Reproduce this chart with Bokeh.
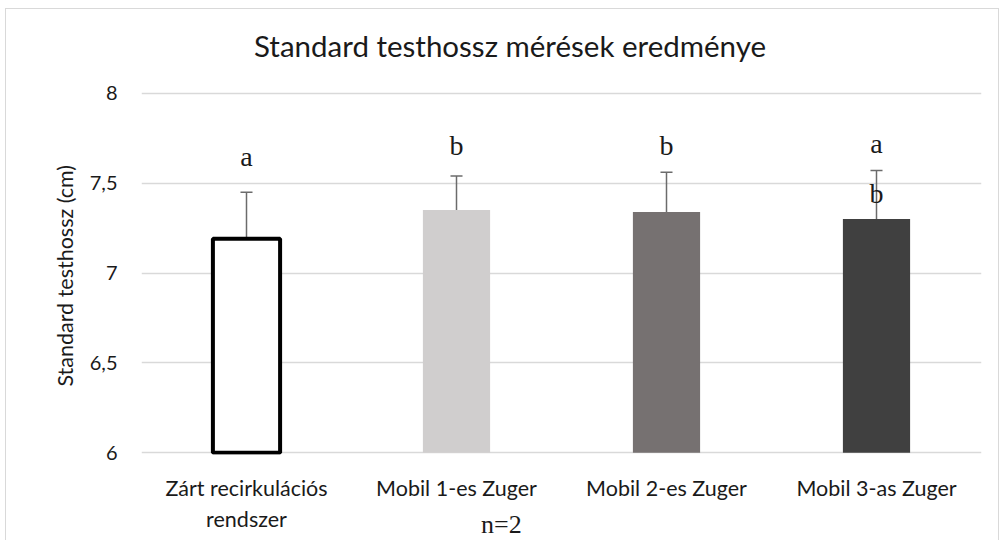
from bokeh.plotting import figure
from bokeh.models import (ColumnDataSource, FactorRange, FixedTicker, Whisker, TeeHead, Range1d,
                          LinearAxis)
from bokeh.core.properties import value
from bokeh.embed import file_html
from bokeh.resources import INLINE

# ---- data ----
categories = ["Zárt recirkulációs\nrendszer", "Mobil 1-es Zuger", "Mobil 2-es Zuger", "Mobil 3-as Zuger"]
means = [7.19, 7.35, 7.34, 7.30]
errors = [0.26, 0.19, 0.22, 0.27]
letters = ["a", "b", "b", "a"]
letter_y = [7.65, 7.71, 7.71, 7.72]
extra_letters = ["b"]
extra_letter_cats = ["Mobil 3-as Zuger"]
extra_letter_y = [7.44]
y_ticks = [6, 6.5, 7, 7.5, 8]
y_tick_labels = ["6", "6,5", "7", "7,5", "8"]
title_text = "Standard testhossz mérések eredménye"
title_pos = 1.755  # horizontal centre of the title on the category axis (synthetic units)
y_label = "Standard  testhossz (cm)"
note_text = "n=2"
note_pos = 1.714   # position of the note on the category axis (synthetic units)

# ---- styles ----
fills = ["#ffffff", "#d0cece", "#767171", "#404040"]
outline_w = [4, 0, 0, 0]
outline_a = [1, 0, 0, 0]
SANS = "Lato"
SERIF = "Liberation Serif"
TXT = "#1a1a1a"

src = ColumnDataSource(dict(
    cat=categories, mean=means, upper=[m + e for m, e in zip(means, errors)],
    fill=fills, lw=outline_w, la=outline_a, letter=letters, ly=letter_y,
))
src2 = ColumnDataSource(dict(cat=extra_letter_cats, letter=extra_letters, ly=extra_letter_y))

p = figure(x_range=FactorRange(*categories), y_range=Range1d(5.99, 8.01),
           width=994, height=532, output_backend="svg", toolbar_location=None,
           min_border_left=135, min_border_right=19, min_border_top=82, min_border_bottom=86)
p.title.visible = False
p.outline_line_color = None
p.styles = {"border-left": "1px solid #d9d9d9", "border-top": "1px solid #d9d9d9",
            "border-right": "1px solid #d9d9d9", "margin-left": "5px", "margin-top": "8px"}

p.vbar(x="cat", top="mean", bottom=6, width=0.32, source=src,
       fill_color="fill", line_color="#000000", line_width="lw", line_alpha="la")

w = Whisker(base="cat", upper="upper", lower="mean", source=src,
            line_color="#6b6b6b", line_width=1.5,
            upper_head=TeeHead(size=12, line_color="#6b6b6b", line_width=1.5),
            lower_head=None)
p.add_layout(w)

p.text(x="cat", y="ly", text="letter", source=src, text_font=value(SERIF),
       text_font_size="28px", text_align="center", text_baseline="alphabetic", text_color=TXT)
p.text(x="cat", y="ly", text="letter", source=src2, text_font=value(SERIF),
       text_font_size="28px", text_align="center", text_baseline="alphabetic", text_color=TXT)

# grid
p.xgrid.visible = False
p.ygrid.ticker = FixedTicker(ticks=y_ticks)
p.ygrid.grid_line_color = "#d9d9d9"
p.ygrid.grid_line_width = 1.5

# y axis
p.yaxis.ticker = FixedTicker(ticks=y_ticks)
p.yaxis.major_label_overrides = {t: l for t, l in zip(y_ticks, y_tick_labels)}
p.yaxis.axis_line_color = None
p.yaxis.major_tick_line_color = None
p.yaxis.minor_tick_line_color = None
p.yaxis.major_tick_out = 0
p.yaxis.major_tick_in = 0
p.yaxis.major_label_standoff = 24
p.yaxis.major_label_text_font = SANS
p.yaxis.major_label_text_font_size = "20px"
p.yaxis.major_label_text_color = TXT
p.yaxis.axis_label = y_label
p.yaxis.axis_label_text_font = SANS
p.yaxis.axis_label_text_font_size = "21.5px"
p.yaxis.axis_label_text_font_style = "normal"
p.yaxis.axis_label_text_color = TXT
p.yaxis.axis_label_standoff = 9

# x axis
p.xaxis.axis_line_color = None
p.xaxis.major_tick_line_color = None
p.xaxis.minor_tick_line_color = None
p.xaxis.major_tick_out = 0
p.xaxis.major_tick_in = 0
p.xaxis.major_label_standoff = 20
p.xaxis.major_label_text_font = SANS
p.xaxis.major_label_text_font_size = "21.5px"
p.xaxis.major_label_text_color = TXT


def text_axis(pos, text, font, size, standoff):
    return LinearAxis(ticker=FixedTicker(ticks=[pos]), major_label_overrides={pos: text},
                      axis_line_color=None, major_tick_line_color=None, minor_tick_line_color=None,
                      major_tick_out=0, major_tick_in=0, major_label_standoff=standoff,
                      major_label_text_font=font, major_label_text_font_size=size,
                      major_label_text_color=TXT)


# chart title above the plot area
p.add_layout(text_axis(title_pos, title_text, SANS, "29.5px", 29), "above")
# note "n=2" below the category labels
p.add_layout(text_axis(note_pos, note_text, SERIF, "26px", -25), "below")

open("out.html", "w").write(file_html(p, INLINE))
